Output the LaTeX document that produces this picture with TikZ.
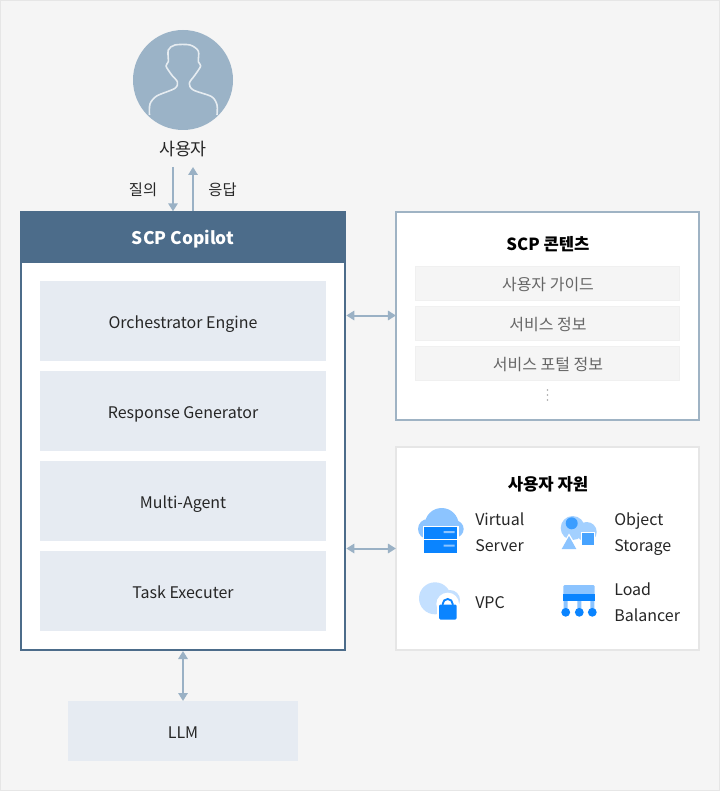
\documentclass[tikz,border=0pt]{standalone}
\usepackage{fontspec}
\setmainfont{Noto Sans CJK KR}
\usetikzlibrary{arrows.meta,positioning}
\definecolor{pagebg}{HTML}{F5F5F5}
\definecolor{pageline}{HTML}{E6E6E6}
\definecolor{headblue}{HTML}{4C6C8A}
\definecolor{layerblue}{HTML}{E6EBF2}
\definecolor{linkblue}{HTML}{9AB1C5}
\definecolor{framblue}{HTML}{9FB3C4}
\definecolor{userblue}{HTML}{9BB3C7}
\definecolor{iconlight}{HTML}{8CC4FF}
\definecolor{iconpale}{HTML}{C4E0FF}
\definecolor{iconblue}{HTML}{0A84FF}
\tikzset{
  px/.style={x=0.75pt,y=-0.75pt},
  link/.style={draw=linkblue,line width=1.5pt,{Triangle[length=6pt,width=7pt]}-{Triangle[length=6pt,width=7pt]}},
  oneway/.style={draw=linkblue,line width=1.5pt,-{Triangle[length=6pt,width=7pt]}},
  layerbox/.style={fill=layerblue,minimum width=214.5pt,minimum height=60pt,inner sep=0pt,outer sep=0pt,text height=11.5pt,text depth=1pt,font=\fontsize{12}{14}\selectfont,text=black!85},
  rowbox/.style={fill=pagebg,draw=black!6,line width=0.75pt,minimum width=198pt,minimum height=25.5pt,inner sep=0pt,outer sep=0pt,text height=11.5pt,text depth=1.6pt,font=\fontsize{12}{14}\selectfont,text=black!60},
  label/.style={inner sep=0pt,text height=12pt,text depth=1pt,font=\fontsize{13}{15}\selectfont,text=black!85},
  small/.style={inner sep=0pt,text height=11pt,text depth=1pt,font=\fontsize{11.5}{13}\selectfont,text=black!85},
  title/.style={inner sep=0pt,text height=11.5pt,text depth=1.5pt,font=\fontsize{12.5}{14}\bfseries\selectfont,text=black},
  itemtext/.style={inner sep=0pt,anchor=west,align=left,font=\fontsize{12}{19.5}\selectfont,text=black!85},
}
\begin{document}
\begin{tikzpicture}[px,node distance=67.5pt]
  \useasboundingbox (0,0) rectangle (720,791);
  \fill[pagebg] (0,0) rectangle (720,791);
  \draw[pageline,line width=0.75pt] (0.5,0.5) rectangle (719.5,790.5);

  % user
  \node[circle,fill=userblue,minimum size=75pt,inner sep=0pt] (user) at (183,80) {};
  \draw[white!75!userblue,line width=1.2pt,line join=round]
    plot[smooth,tension=0.5] coordinates {(149.5,115) (150,104) (156.7,96) (175,88.3) (177.3,81.7) (171.7,75)
      (166,66) (168.3,61.7) (168.3,50) (175,45) (190,45) (198.3,51) (198.3,61.7) (200.7,66)
      (195,75) (189.3,83.3) (193.3,90) (211.7,96.7) (217,105) (217,115)};
  \node[label] (userlabel) at (183,148) {사용자};

  % copilot
  \node[draw=headblue,fill=white,line width=1.5pt,minimum width=243pt,minimum height=328.5pt,inner sep=0pt,outer sep=0pt] (copilot) at (183,431) {};
  \node[fill=headblue,minimum width=243.75pt,minimum height=38.5pt,inner sep=0pt,outer sep=0pt,text height=12.5pt,text depth=1.5pt,text=white,font=\fontsize{13}{16}\bfseries\selectfont] (head) at (183,237) {SCP Copilot};
  \node[layerbox] (orch) at (183,321) {Orchestrator Engine};
  \node[layerbox,below of=orch] (resp) {Response Generator};
  \node[layerbox,below of=resp] (multi) {Multi-Agent};
  \node[layerbox,below of=multi] (task) {Task Executer};
  \node[layerbox,minimum width=172.5pt,minimum height=45pt] (llm) at (183,731) {LLM};

  % contents
  \node[draw=framblue,fill=white,line width=1.5pt,minimum width=227pt,minimum height=155.25pt,inner sep=0pt,outer sep=0pt] (contents) at (547.3,316) {};
  \node[title] (contentstitle) at (548,244) {SCP 콘텐츠};
  \node[rowbox] (guide) at (547.5,283.5) {\hspace{0.75pt}사용자 가이드};
  \node[rowbox,below of=guide,node distance=30pt] (service) {\hspace{0.75pt}서비스 정보};
  \node[rowbox,below of=service,node distance=30pt] (portal) {\hspace{0.75pt}서비스 포털 정보};
  \foreach \y in {390,395,400}
    \fill[black!35] (547.5,\y) circle (0.6pt);

  % resources
  \node[draw=pageline,fill=white,line width=1.5pt,minimum width=227pt,minimum height=152.25pt,inner sep=0pt,outer sep=0pt] (resources) at (547.3,548) {};
  \node[title] (resourcestitle) at (548,484) {사용자 자원};

  % virtual server
  \fill[iconlight] (441.7,525) circle (12.75pt) (428,529) circle (7.5pt) (455,529) circle (6.5pt);
  \fill[white] (422.5,525.5) rectangle (458.5,553);
  \fill[iconblue] (424.3,527.3) rectangle (456.7,552.7);
  \fill[white] (424.3,538.7) rectangle (456.7,540);
  \fill[iconlight] (443.5,531) rectangle (454.5,533) (443.5,544.5) rectangle (454.5,546.5);
  \node[itemtext] (vserver) at (475,532) {Virtual\\Server};

  % object storage
  \fill[iconlight!80!white] (572.7,528) circle (9pt) (586.7,532) circle (7.5pt);
  \fill[iconblue!80!white] (571.7,523.3) circle (4.5pt);
  \fill[white] (581,532) rectangle (595,546);
  \fill[iconblue!75!white] (582.3,533.3) rectangle (594,545);
  \fill[white] (569,533.5) -- (579,550) -- (559.5,550) -- cycle;
  \fill[iconlight] (569,536) -- (576.3,549) -- (561.7,549) -- cycle;
  \node[itemtext] (ostorage) at (614,534) {Object\\Storage};

  % vpc
  \fill[iconpale] (435,598.3) circle (12pt) (450,600) circle (7.5pt);
  \fill[white] (447.7,604) circle (8.5pt);
  \fill[white] (437,604) rectangle (458.7,621);
  \draw[iconblue,line width=1.4pt] (442.7,606) -- (442.7,604) arc[start angle=180,end angle=360,radius=5] -- (452.7,606);
  \fill[iconblue,rounded corners=1pt] (439,604.5) rectangle (456.7,619.5);
  \node[itemtext] (vpc) at (475,603) {VPC};

  % load balancer
  \fill[iconlight,rounded corners=1pt] (563.3,585) rectangle (594.7,595);
  \fill[iconlight] (563.7,600) rectangle (567.7,610) (577.3,600) rectangle (581.3,610) (590.3,600) rectangle (594.3,610);
  \fill[iconblue] (563.3,594.3) rectangle (594.7,601);
  \fill[iconblue] (565.7,612.3) circle (3.3pt) (579.3,612.3) circle (3.3pt) (592.3,612.3) circle (3.3pt);
  \node[itemtext] (lbalancer) at (614,602) {Load\\Balancer};

  % links
  \node[small] (asklabel) at (143,189) {질의};
  \node[small] (answerlabel) at (222.5,189) {응답};
  \coordinate (askfrom) at (173,167);
  \coordinate (answerto) at (193,167);
  \path[oneway] (askfrom) -- (askfrom |- head.north);
  \path[oneway] (answerto |- head.north) -- (answerto);
  \path[link,shorten <=1pt] (copilot.east |- service.north) ++(0,9) coordinate (contentsleft) -- (contentsleft -| contents.west);
  \coordinate (resourceleft) at (copilot.east |- resources.west);
  \path[link,shorten <=1pt] (resourceleft) ++(0,0.5) coordinate (resourcelink) -- (resourcelink -| resources.west);
  \path[link] (copilot) ++(0,220) coordinate (copilotlow) -- (llm.north);
\end{tikzpicture}
\end{document}
